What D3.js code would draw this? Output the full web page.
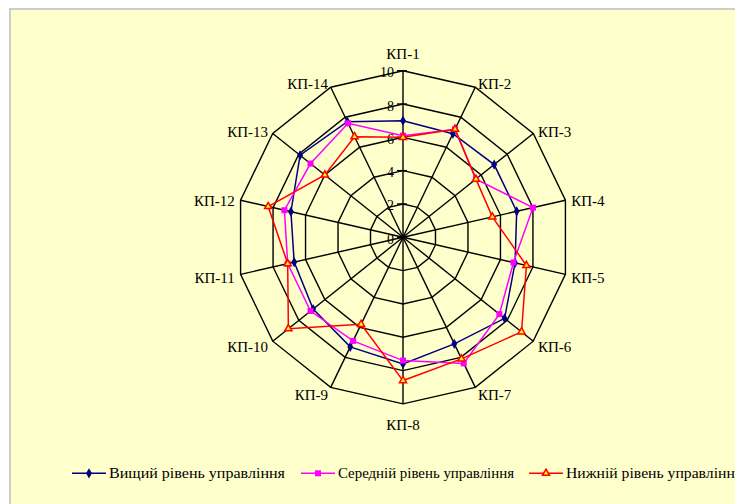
<!DOCTYPE html>
<html>
<head>
<meta charset="utf-8">
<script src="https://cdn.jsdelivr.net/npm/d3@7"></script>
<style>
  html, body { margin: 0; padding: 0; background: #fff; overflow: hidden; }
  svg { display: block; font-family: "Liberation Serif", "DejaVu Serif", serif; }
</style>
</head>
<body>
<div id="svg-container"></div>
<script>
////////////////////////////////////////////////////////////////////
////////////////////////////  Data  ////////////////////////////////
const categories = ["КП-1", "КП-2", "КП-3", "КП-4", "КП-5", "КП-6", "КП-7",
  "КП-8", "КП-9", "КП-10", "КП-11", "КП-12", "КП-13", "КП-14"];
const tickValues = [0, 2, 4, 6, 8, 10];
const seriesNames = ["Вищий рівень управління", "Середній рівень управління", "Нижній рівень управління"];

// values per КП
const vyshchyi = [7.0, 6.9, 7.0, 7.0, 6.9, 7.8, 7.1, 7.6, 7.3, 6.9, 6.7, 6.9, 7.9, 7.7];
const serednii = [6.1, 7.2, 5.6, 8.0, 6.8, 7.4, 8.4, 7.4, 6.9, 7.1, 7.1, 7.3, 7.1, 7.6];
const nyzhnii = [6.0, 7.2, 5.6, 5.5, 7.6, 9.1, 8.1, 8.6, 5.8, 8.8, 7.1, 8.3, 6.0, 6.7];

////////////////////////////////////////////////////////////////////
////////////////////////////  Init  ////////////////////////////////
const width = 735;
const height = 504;
const cx = 403;
const cy = 237.3;
const R = 166.6;

const svg = d3.select("#svg-container").append("svg")
  .attr("width", width)
  .attr("height", height);

// chart area
svg.append("rect")
  .attr("x", 10).attr("y", 9)
  .attr("width", 800).attr("height", 600)
  .attr("fill", "#FFFFCC")
  .attr("stroke", "#cfcdc4")
  .attr("stroke-width", 2);

// scales
const rScale = d3.scaleLinear().domain([0, 10]).range([0, R]);
const aScale = d3.scaleLinear().domain([0, categories.length]).range([0, 2 * Math.PI]);

const g = svg.append("g").attr("transform", `translate(${cx},${cy})`);

const radial = d3.lineRadial().curve(d3.curveLinearClosed);

// rings
g.append("g").attr("class", "rings")
  .selectAll("path")
  .data(tickValues.filter((t) => t > 0))
  .join("path")
  .attr("d", (t) => radial(categories.map((c, i) => [aScale(i), rScale(t)])))
  .attr("fill", "none")
  .attr("stroke", "#000")
  .attr("stroke-width", 1.4);

// spokes
g.append("g").attr("class", "spokes")
  .selectAll("line")
  .data(categories)
  .join("line")
  .attr("x1", 0).attr("y1", 0)
  .attr("x2", (c, i) => rScale(10) * Math.sin(aScale(i)))
  .attr("y2", (c, i) => -rScale(10) * Math.cos(aScale(i)))
  .attr("stroke", "#000")
  .attr("stroke-width", 1.4);

// value axis ticks + labels
const tickG = g.append("g").attr("class", "r-axis");
tickG.selectAll("line")
  .data(tickValues)
  .join("line")
  .attr("x1", -6).attr("x2", 4)
  .attr("y1", (t) => -rScale(t))
  .attr("y2", (t) => -rScale(t))
  .attr("stroke", "#000")
  .attr("stroke-width", 1.4);
tickG.selectAll("text")
  .data(tickValues)
  .join("text")
  .attr("x", -9)
  .attr("y", (t) => -rScale(t) + 2)
  .attr("text-anchor", "end")
  .attr("dominant-baseline", "central")
  .attr("font-size", 14)
  .attr("fill", "#000")
  .text((t) => t);

// category labels
g.append("g").attr("class", "cat-labels")
  .selectAll("text")
  .data(categories)
  .join("text")
  .attr("x", (c, i) => (rScale(10) + 6) * Math.sin(aScale(i)))
  .attr("y", (c, i) => {
    const co = Math.cos(aScale(i));
    let y = -(rScale(10) + 6) * co + 2;
    if (Math.abs(co) > 0.99) y -= co * 13; // top / bottom
    return y;
  })
  .attr("text-anchor", (c, i) => {
    const s = Math.sin(aScale(i));
    return Math.abs(s) < 0.1 ? "middle" : s > 0 ? "start" : "end";
  })
  .attr("dominant-baseline", "central")
  .attr("font-size", 15)
  .attr("fill", "#000")
  .text((c) => c);

////////////////////////////////////////////////////////////////////
////////////////////////////  Series  //////////////////////////////
const series = [
  { name: seriesNames[0], values: vyshchyi, color: "#000080", symbol: d3.symbolDiamond, size: 30, fill: "#000080" },
  { name: seriesNames[1], values: serednii, color: "#FF00FF", symbol: d3.symbolSquare, size: 36, fill: "#FF00FF" },
  { name: seriesNames[2], values: nyzhnii, color: "#FF0000", symbol: d3.symbolTriangle, size: 22, fill: "#FFFF00" },
];

series.forEach((s) => {
  g.append("path")
    .datum(s.values)
    .attr("d", radial.angle((d, i) => aScale(i)).radius((d) => rScale(d)))
    .attr("fill", "none")
    .attr("stroke", s.color)
    .attr("stroke-width", 1.5);

  g.append("g")
    .selectAll("path")
    .data(s.values)
    .join("path")
    .attr("transform", (d, i) =>
      `translate(${rScale(d) * Math.sin(aScale(i))},${-rScale(d) * Math.cos(aScale(i))})`)
    .attr("d", d3.symbol().type(s.symbol).size(s.size))
    .attr("fill", s.fill)
    .attr("stroke", s.color)
    .attr("stroke-width", s.symbol === d3.symbolTriangle ? 1.5 : 0);
});

////////////////////////////////////////////////////////////////////
////////////////////////////  Legend  //////////////////////////////
const legendX = [72, 301, 529];
const legendY = 473.3;
const legend = svg.append("g").attr("class", "legend")
  .selectAll("g")
  .data(series)
  .join("g")
  .attr("transform", (d, i) => `translate(${legendX[i]},${legendY})`);

legend.append("line")
  .attr("x1", 0).attr("x2", 34)
  .attr("stroke", (d) => d.color)
  .attr("stroke-width", 1.5);
legend.append("path")
  .attr("transform", "translate(17,0)")
  .attr("d", (d) => d3.symbol().type(d.symbol).size(d.size)())
  .attr("fill", (d) => d.fill)
  .attr("stroke", (d) => d.color)
  .attr("stroke-width", (d) => (d.symbol === d3.symbolTriangle ? 1.5 : 0));
legend.append("text")
  .attr("x", 37)
  .attr("dominant-baseline", "central")
  .attr("font-size", 14)
  .attr("textLength", 176)
  .attr("lengthAdjust", "spacingAndGlyphs")
  .attr("fill", "#000")
  .text((d) => d.name);
</script>
</body>
</html>
